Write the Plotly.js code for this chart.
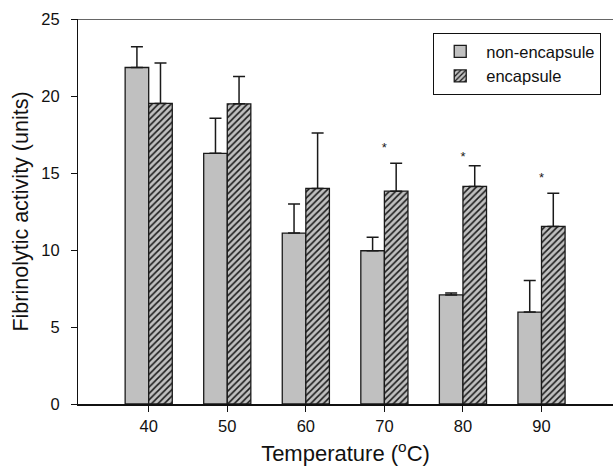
<!DOCTYPE html>
<html>
<head>
<meta charset="utf-8">
<script src="https://cdn.plot.ly/plotly-3.0.1.min.js"></script>
<style>
  html, body { margin: 0; padding: 0; background: #ffffff; }
  #chart { width: 613px; height: 466px; }
</style>
</head>
<body>
<div id="chart"></div>
<script>
// ---- data ----
var temperatures = [40, 50, 60, 70, 80, 90];
var tickLabels = ["40", "50", "60", "70", "80", "90"];
var yTicks = [0, 5, 10, 15, 20, 25];

var nonEncapsule = [21.85, 16.28, 11.10, 9.95, 7.08, 5.97];
var nonEncapsuleErr = [1.35, 2.27, 1.88, 0.88, 0.12, 2.05];

var encapsule = [19.52, 19.49, 14.00, 13.82, 14.13, 11.53];
var encapsuleErr = [2.62, 1.77, 3.60, 1.81, 1.34, 2.15];

var sigX = [70, 80, 90];
var sigY = [16.55, 16.0, 14.6];
var sigMark = ["*", "*", "*"];

var FONT = "Arial, 'Liberation Sans', Helvetica, sans-serif";

function zeros(a) { return a.map(function () { return 0; }); }

var traces = [
  {
    type: "bar",
    name: "non-encapsule",
    x: temperatures,
    y: nonEncapsule,
    marker: { color: "#c0c0c0", line: { color: "#1a1a1a", width: 1.3 } },
    error_y: {
      type: "data", symmetric: false,
      array: nonEncapsuleErr, arrayminus: zeros(nonEncapsuleErr),
      color: "#1a1a1a", thickness: 1.5, width: 6
    },
    hoverinfo: "skip"
  },
  {
    type: "bar",
    name: "encapsule",
    x: temperatures,
    y: encapsule,
    marker: {
      color: "#c0c0c0",
      line: { color: "#1a1a1a", width: 1.3 },
      pattern: { shape: "/", fgcolor: "#1a1a1a", bgcolor: "#c0c0c0", size: 4.5, solidity: 0.35 }
    },
    error_y: {
      type: "data", symmetric: false,
      array: encapsuleErr, arrayminus: zeros(encapsuleErr),
      color: "#1a1a1a", thickness: 1.5, width: 6
    },
    hoverinfo: "skip"
  },
  {
    type: "scatter",
    mode: "text",
    x: sigX,
    y: sigY,
    text: sigMark,
    textposition: "middle center",
    textfont: { family: FONT, size: 13, color: "#1a1a1a" },
    showlegend: false,
    hoverinfo: "skip"
  }
];

var layout = {
  width: 613,
  height: 466,
  margin: { l: 78, r: 0, t: 19, b: 62 },
  paper_bgcolor: "#ffffff",
  plot_bgcolor: "#ffffff",
  font: { family: FONT, color: "#111111", size: 16 },
  barmode: "group",
  bargap: 0.4,
  bargroupgap: 0,
  showlegend: true,
  legend: {
    x: 0.6636, y: 0.9636, xanchor: "left", yanchor: "top",
    bordercolor: "#111111", borderwidth: 1.2, bgcolor: "#ffffff",
    font: { family: FONT, size: 16.5, color: "#111111" },
    tracegroupgap: 0,
    itemwidth: 42
  },
  xaxis: {
    range: [31, 99.1],
    tickmode: "array",
    tickvals: temperatures,
    ticktext: tickLabels,
    ticks: "outside", ticklen: 6, tickwidth: 1, tickcolor: "#111111",
    showline: true, linecolor: "#111111", linewidth: 2,
    showgrid: false, zeroline: false,
    tickfont: { family: FONT, size: 16.5, color: "#111111" },
    title: { text: "Temperature (<sup>o</sup>C)", font: { family: FONT, size: 22, color: "#111111" }, standoff: 14 }
  },
  yaxis: {
    range: [0, 25],
    tickmode: "array",
    tickvals: yTicks,
    ticks: "outside", ticklen: 6, tickwidth: 1, tickcolor: "#111111",
    showline: true, linecolor: "#111111", linewidth: 1,
    showgrid: false, zeroline: false,
    ticklabelstandoff: 8,
    tickfont: { family: FONT, size: 16.5, color: "#111111" },
    title: { text: "Fibrinolytic activity (units)", font: { family: FONT, size: 21.5, color: "#111111" }, standoff: 6 }
  },
  shapes: [
    { type: "line", xref: "paper", yref: "y", x0: 0, x1: 1, y0: 25, y1: 25,
      line: { color: "#333333", width: 1.3 } }
  ]
};

Plotly.newPlot("chart", traces, layout, { displayModeBar: false, staticPlot: true });
</script>
</body>
</html>
